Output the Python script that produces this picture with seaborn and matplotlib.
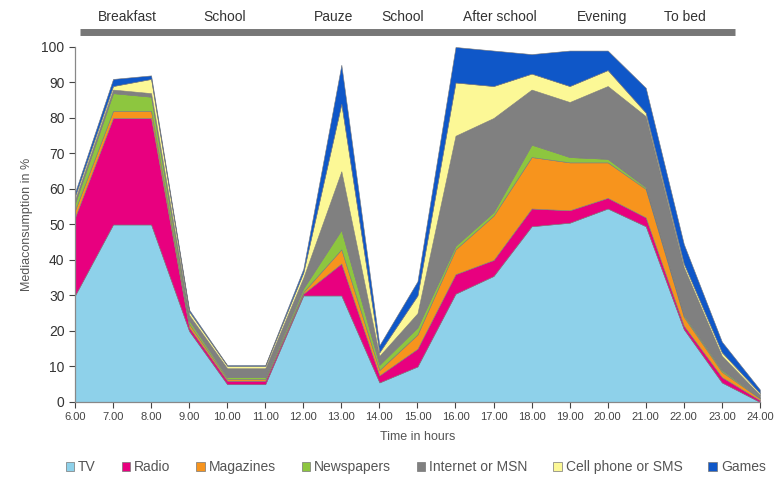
import matplotlib
matplotlib.use("Agg")
import matplotlib.pyplot as plt
from matplotlib.patches import Patch
import seaborn as sns
import numpy as np

hours = [6, 7, 8, 9, 10, 11, 12, 13, 14, 15, 16, 17, 18, 19, 20, 21, 22, 23, 24]
hour_labels = ["6.00", "7.00", "8.00", "9.00", "10.00", "11.00", "12.00", "13.00", "14.00",
               "15.00", "16.00", "17.00", "18.00", "19.00", "20.00", "21.00", "22.00", "23.00", "24.00"]

tv = [30, 50, 50, 20, 5, 5, 30, 30, 5.5, 10, 30.5, 35.5, 49.5, 50.5, 54.5, 49.5, 20.5, 5.5, 0]
radio = [22, 30, 30, 1, 1, 1, 0.5, 9, 2, 5, 5.5, 4.5, 5, 3.5, 3, 2.5, 1, 1.5, 0.5]
magazines = [2, 2, 2, 1, 0.5, 0.5, 0.5, 4, 1.5, 4, 7, 12.5, 14.5, 13.5, 10, 8, 2.5, 1.5, 0.5]
newspapers = [2, 5, 4, 1, 0.5, 0.5, 1, 5.5, 1.5, 2, 1, 1, 3.5, 1.5, 1, 0.5, 0.5, 0.5, 0.2]
internet = [1, 1, 1, 1.5, 2.5, 2.5, 3, 16.5, 2.5, 4, 31, 26.5, 15.5, 15.5, 20.5, 20, 13.5, 4, 0.8]
cellphone = [1, 1, 4, 1, 0.7, 0.7, 1.5, 19, 1, 5, 15, 9, 4.5, 4.5, 4.5, 1, 1, 1, 0.5]
games = [1, 2, 1, 0.5, 0.2, 0.2, 1, 11, 2, 4, 10, 10, 5.5, 10, 5.5, 7, 5.5, 3, 1]

series_names = ["TV", "Radio", "Magazines", "Newspapers", "Internet or MSN", "Cell phone or SMS", "Games"]
series_colors = ["#8ed1ea", "#e8007f", "#f7941d", "#8dc63f", "#808080", "#fcf896", "#0f57c8"]

periods = ["Breakfast", "School", "Pauze", "School", "After school", "Evening", "To bed"]
period_pos = [7.39, 9.94, 12.8, 14.6, 17.17, 19.85, 22.03]

sns.set_theme(style="white")
plt.rcParams['font.family'] = ['Liberation Sans', 'DejaVu Sans']

fig = plt.figure(figsize=(7.77, 4.79), dpi=100)
ax = fig.add_axes([0.0965, 0.1608, 0.8815, 0.7411])

ax.stackplot(hours, tv, radio, magazines, newspapers, internet, cellphone, games,
             colors=series_colors, linewidth=0.4, edgecolor="#7a7a7a", alpha=1)

ax.set_xlim(6, 24)
ax.set_ylim(0, 100)
ax.set_xticks(hours)
ax.set_xticklabels(hour_labels, fontsize=8, color="#444444")
ax.set_yticks(np.arange(0, 101, 10))
ax.tick_params(axis="y", labelsize=10, colors="#444444", length=4, width=0.8, direction="out", left=True)
ax.tick_params(axis="x", length=4, width=0.8, direction="out", bottom=True, colors="#444444", labelsize=8)
for lab in ax.get_yticklabels():
    lab.set_color("#333333")
sns.despine(ax=ax)
for s in ["left", "bottom"]:
    ax.spines[s].set_color("#888888")
    ax.spines[s].set_linewidth(0.9)

ax.set_xlabel("Time in hours", fontsize=9, color="#555555", labelpad=6)
ax.set_ylabel("Mediaconsumption in %", fontsize=9, color="#555555", labelpad=6)

# top period band
ax.plot([6.13, 23.34], [104.2, 104.2], color="#777777", linewidth=5, clip_on=False,
        solid_capstyle="butt")
for name, p in zip(periods, period_pos):
    ax.text(p, 106.5, name, ha="center", va="bottom", fontsize=10, color="#333333", clip_on=False)

handles = [Patch(facecolor=c, edgecolor="#777777", linewidth=0.5, label=n)
           for n, c in zip(series_names, series_colors)]
fig.legend(handles=handles, loc="center", bbox_to_anchor=(0.535, 0.025), ncol=7, frameon=False,
           fontsize=10, handlelength=0.6, handleheight=0.6, handletextpad=0.3, columnspacing=1.85,
           labelcolor="#555555")

fig.savefig("out.png", dpi=100)
